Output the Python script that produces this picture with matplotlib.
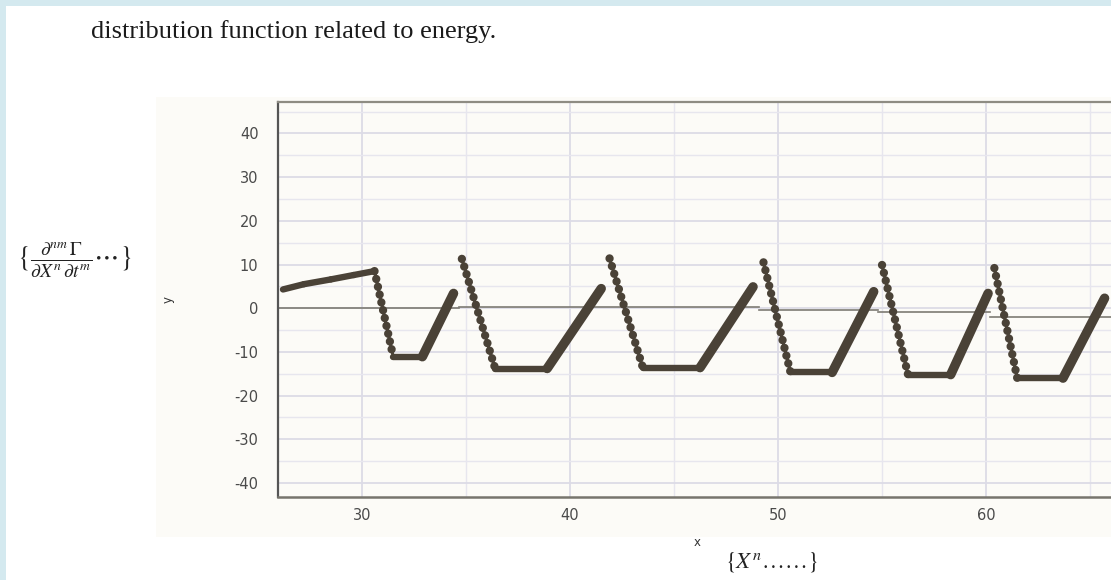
import matplotlib
matplotlib.use('Agg')
import matplotlib.pyplot as plt
from matplotlib.patches import Rectangle
from matplotlib.ticker import MultipleLocator

# -------------------- data --------------------
# curve vertices, one list per saw-tooth cycle (pen lifted between cycles)
cycle_x = [
    [26.2, 27.2, 28.5, 29.6, 30.6, 31.5, 32.9, 34.4],
    [34.8, 36.4, 38.9, 41.5],
    [41.9, 43.5, 46.25, 48.8],
    [49.3, 50.6, 52.6, 54.6],
    [55.0, 56.25, 58.3, 60.1],
    [60.4, 61.5, 63.7, 65.7],
]
cycle_y = [
    [4.3, 5.5, 6.6, 7.6, 8.5, -11.1, -11.1, 3.4],
    [11.3, -13.8, -13.8, 4.5],
    [11.4, -13.6, -13.6, 4.9],
    [10.5, -14.7, -14.7, 3.8],
    [9.9, -15.2, -15.2, 3.4],
    [9.2, -16.0, -16.0, 2.3],
]

# the zero line is drawn in pieces that do not quite line up
zero_edges = [25.96, 34.65, 49.1, 54.8, 60.2, 66.2]
zero_levels = [0.0, 0.35, -0.4, -0.85, -1.9]

x_ticks = [30, 40, 50, 60]
y_ticks = [-40, -30, -20, -10, 0, 10, 20, 30, 40]

line_col = '#4a4237'

plt.rcParams['axes.unicode_minus'] = False
plt.rcParams['mathtext.fontset'] = 'stix'

# -------------------- figure --------------------
fig = plt.figure(figsize=(11.11, 5.8), dpi=100)
fig.patch.set_facecolor('white')
W, H = 1111, 580

def px(x, y):
    return x / W, 1 - y / H

# page frame strips and chart background (behind the axes)
fig.patches.append(Rectangle((0, 0), 6 / W, 1, transform=fig.transFigure,
                             facecolor='#d4e9ef', edgecolor='none', zorder=-5))
fig.patches.append(Rectangle((0, 1 - 6 / H), 1, 6 / H, transform=fig.transFigure,
                             facecolor='#d4e9ef', edgecolor='none', zorder=-5))
fig.patches.append(Rectangle((156 / W, 1 - 537 / H), (W - 156) / W, 440 / H,
                             transform=fig.transFigure, facecolor='#fcfbf7',
                             edgecolor='none', zorder=-5))

ax = fig.add_axes([278 / W, 83 / H, (1115 - 278) / W, 395 / H])
ax.set_facecolor('#fcfbf7')
ax.set_xlim(25.96, 66.2)
ax.set_ylim(-43.2, 47.2)

ax.xaxis.set_major_locator(MultipleLocator(10))
ax.xaxis.set_minor_locator(MultipleLocator(5))
ax.yaxis.set_major_locator(MultipleLocator(10))
ax.yaxis.set_minor_locator(MultipleLocator(5))
ax.set_xticks(x_ticks)
ax.set_yticks(y_ticks)
ax.grid(which='major', color='#dcdbe6', lw=1.3, zorder=0)
ax.grid(which='minor', color='#e7e6ee', lw=1.0, zorder=0)
ax.set_axisbelow(True)

ax.tick_params(which='both', length=0)
ax.tick_params(axis='y', pad=14, labelsize=10.5, labelcolor='#4a4a4a')
ax.tick_params(axis='x', pad=8, labelsize=10.5, labelcolor='#4a4a4a')

ax.spines['right'].set_visible(False)
ax.spines['left'].set_color('#555555')
ax.spines['left'].set_linewidth(1.6)
ax.spines['bottom'].set_color('#77756d')
ax.spines['bottom'].set_linewidth(1.8)
ax.spines['top'].set_color('#8e8c83')
ax.spines['top'].set_linewidth(1.6)

# zero line pieces
for i, lev in enumerate(zero_levels):
    ax.plot([zero_edges[i], zero_edges[i + 1]], [lev, lev], color='#7d7b73',
            lw=1.2, zorder=1)

# curve: smooth/flat parts thick, steep rises thicker, drops as beaded chains
for xs, ys in zip(cycle_x, cycle_y):
    for i in range(len(xs) - 1):
        seg_x = [xs[i], xs[i + 1]]
        seg_y = [ys[i], ys[i + 1]]
        slope = (ys[i + 1] - ys[i]) / (xs[i + 1] - xs[i])
        if slope < -5:
            ax.plot(seg_x, seg_y, color=line_col, lw=2.2, zorder=3)
            ax.plot(seg_x, seg_y, color=line_col, lw=6.0, zorder=3,
                    linestyle=(0, (0.01, 0.95)), dash_capstyle='round')
        elif slope > 5:
            ax.plot(seg_x, seg_y, color=line_col, lw=6.8, zorder=3,
                    solid_capstyle='round')
        else:
            ax.plot(seg_x, seg_y, color=line_col, lw=4.6, zorder=3,
                    solid_capstyle='round')

ax.set_xlabel('x', fontsize=8.5, color='#333333')
ax.xaxis.set_label_coords(0.5006, -0.10)
ax.set_ylabel('y', fontsize=8.5, color='#333333')
ax.yaxis.set_label_coords(-0.123, 0.501)

# -------------------- surrounding document text --------------------
fig.text(*px(91, 38), 'distribution function related to energy.',
         family='Liberation Serif', fontsize=19, color='#1a1a1a',
         ha='left', va='baseline')
fig.text(*px(74, 260),
         r'$\{\frac{\partial^{nm}\,\Gamma}{\partial X^n\,\partial t^m}\cdots\}$',
         fontsize=20, color='#222222', ha='center', va='center')
fig.text(*px(771, 562), r'$\{X^n\ldots\ldots\}$', fontsize=16.5,
         color='#222222', ha='center', va='center')

fig.savefig('out.png', dpi=100)
plt.close(fig)
